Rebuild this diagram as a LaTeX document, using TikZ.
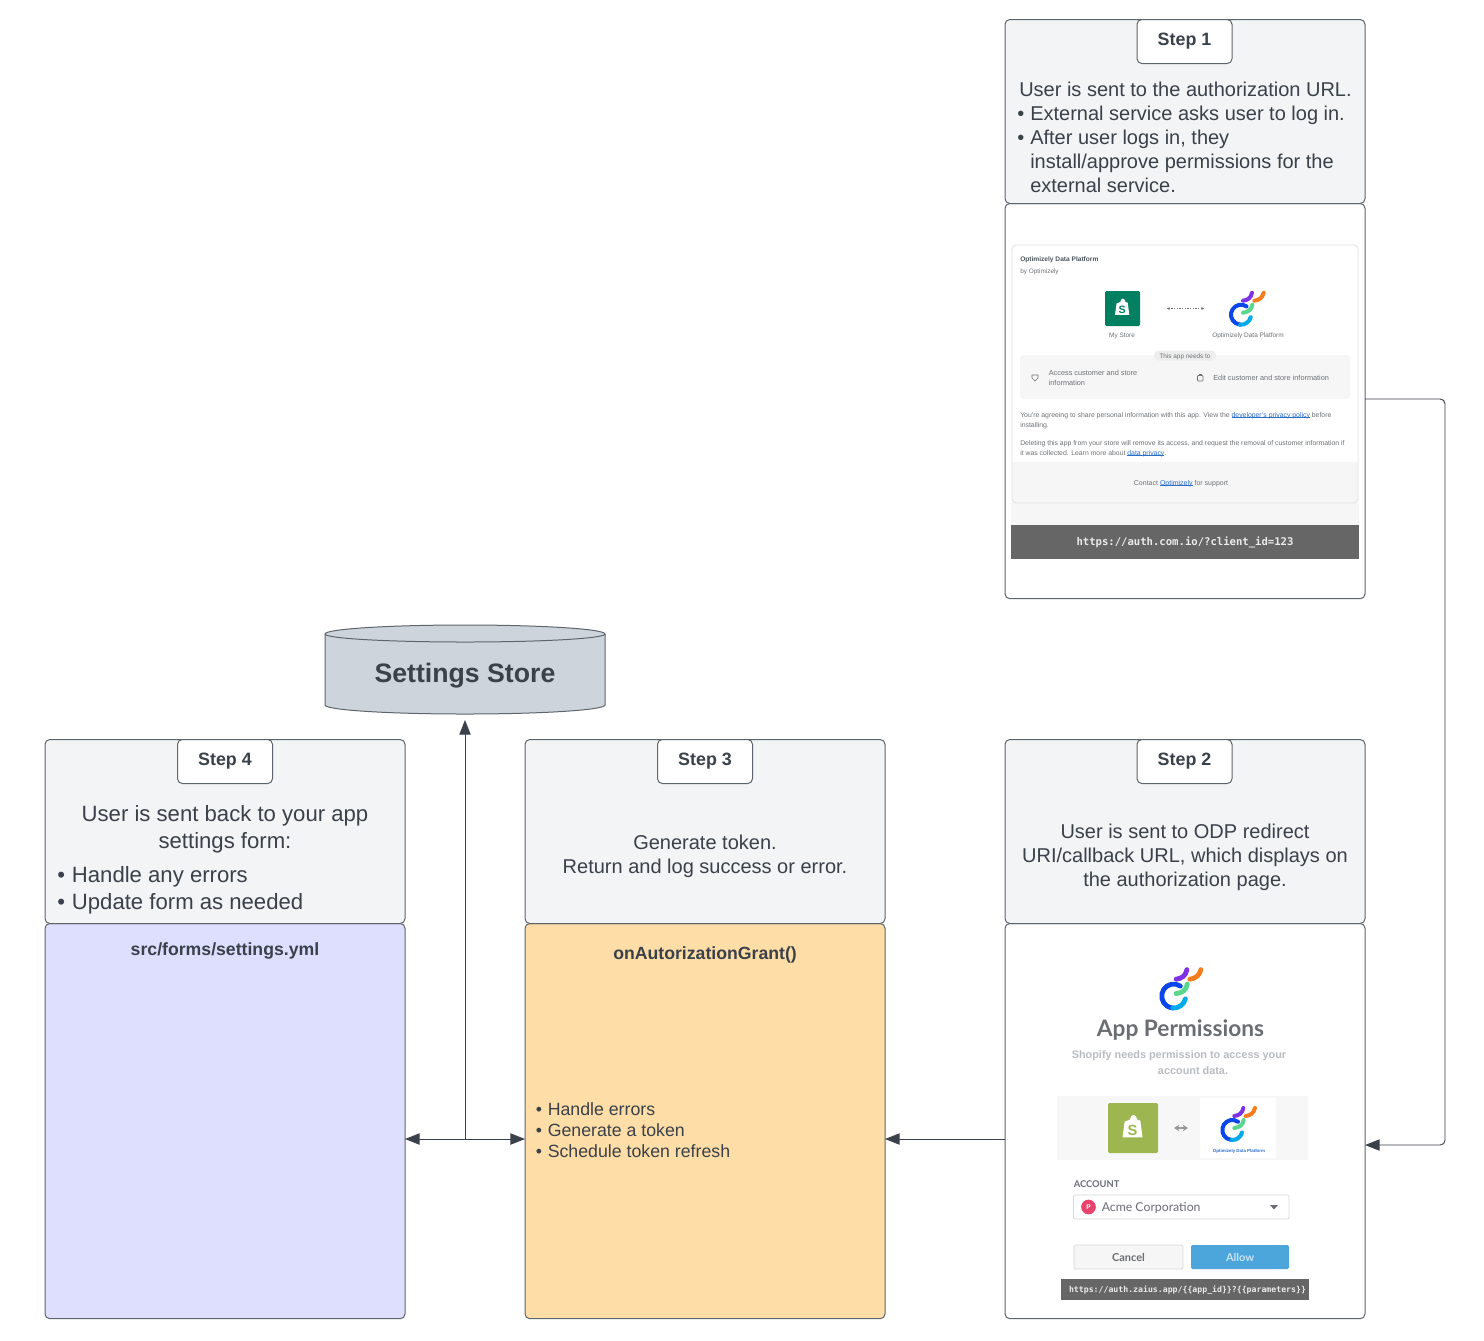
\documentclass[tikz,border=0pt]{standalone}
\usepackage{fontspec}
\setmainfont{Liberation Sans}
\setmonofont{DejaVu Sans Mono}
\newfontfamily\latofont{Lato}
\usetikzlibrary{arrows.meta,calc}
\definecolor{ink}{HTML}{3A414A}
\definecolor{edge}{HTML}{5F656C}
\definecolor{panel}{HTML}{F2F4F5}
\definecolor{lav}{HTML}{DEDEFF}
\definecolor{peach}{HTML}{FFDDA6}
\definecolor{storefill}{HTML}{CED4DB}
\definecolor{bar}{HTML}{666666}
\definecolor{soft}{HTML}{F6F6F7}
\definecolor{shotgray}{HTML}{6D7175}
\definecolor{linkblue}{HTML}{2C6ECB}
\definecolor{shopgreen}{HTML}{008060}
\definecolor{shoplime}{HTML}{9DB650}
\definecolor{blurgray}{HTML}{B9BCC0}
\definecolor{blurdark}{HTML}{6A6D72}
\definecolor{allowblue}{HTML}{4CA6DC}
\newcommand{\bul}{\makebox[9.75pt][l]{•}}
\newcommand{\lk}[1]{\textcolor{linkblue}{\setbox0\hbox{#1}\rlap{\rule[-0.55pt]{\wd0}{0.25pt}}\box0}}
\newcommand{\odplogo}[3]{%
\begin{scope}[shift={(#1,#2)},scale=#3/3,line width=#3*3pt,line cap=round]
\draw[color={rgb,255:red,10;green,70;blue,235}] (-56:30) arc[radius=30,start angle=-56,end angle=-265];
\draw[color={rgb,255:red,0;green,170;blue,235}] (-265:30) arc[radius=30,start angle=-265,end angle=-346];
\draw[color={rgb,255:red,90;green,215;blue,140}] (6,-6) .. controls (20,-8) and (32,-14) .. (34,-30);
\draw[color={rgb,255:red,125;green,50;blue,230}] (6,-42) .. controls (20,-44) and (30,-50) .. (33,-66);
\draw[color={rgb,255:red,245;green,125;blue,30}] (40,-42) .. controls (54,-44) and (64,-50) .. (68,-66);
\end{scope}}
\newcommand{\shopbag}[5]{%
\begin{scope}[shift={(#1,#2)},scale=#3]
\fill[white] (-8,-6) -- (-3,-8) .. controls (-2,-14) and (3,-14) .. (4,-8) -- (7,-7) -- (9,9) -- (-10,9) -- cycle;
\node[font=\bfseries\fontsize{#4}{#4}\selectfont,text=#5,inner sep=0pt] (bag#1) at (-0.5,2) {S};
\end{scope}}
\tikzset{
  x=0.75pt,y=-0.75pt,
  boxbase/.style={draw=edge,line width=0.75pt,rounded corners=3.6pt,anchor=north west,inner sep=0pt,outer sep=0pt},
  headbox/.style={boxbase,fill=panel,minimum width=270pt,minimum height=138pt},
  bodybox/.style={boxbase,minimum width=270pt,minimum height=296.4pt},
  stepbox/.style={boxbase,fill=white,minimum width=71.25pt,minimum height=33pt,text=ink,font=\bfseries\fontsize{13.4}{16}\selectfont},
  copy/.style={text=ink,inner sep=0pt,font=\fontsize{15}{18}\selectfont},
  copyL/.style={copy,font=\fontsize{16.6}{20.25}\selectfont},
  arrowline/.style={draw=ink,line width=0.7pt,-{Stealth[length=11pt,width=8.5pt,inset=0pt]}},
  tiny/.style={text=shotgray,inner sep=0pt,anchor=base west,font=\fontsize{5.15}{7.5}\selectfont},
  tinyc/.style={tiny,anchor=base},
  blur/.style={inner sep=0pt,text=blurgray,font=\bfseries\fontsize{8.15}{10}\selectfont},
}
\begin{document}
\begin{tikzpicture}
\useasboundingbox (0,0) rectangle (1484,1340);
\fill[white] (0,0) rectangle (1484,1340);

% Bodies
\node[bodybox,fill=white] (s1body) at (1005,203.5) {};
\node[bodybox,fill=white] (s2body) at (1005,923.5) {};
\node[bodybox,fill=peach] (s3body) at (525,923.5) {};
\node[bodybox,fill=lav] (s4body) at (45,923.5) {};

% Heads
\node[headbox] (s1head) at (1005,19.5) {};
\node[headbox] (s2head) at (1005,739.5) {};
\node[headbox] (s3head) at (525,739.5) {};
\node[headbox] (s4head) at (45,739.5) {};
\node[stepbox] (s1tag) at (1137,19.5) {Step 1};
\node[stepbox] (s2tag) at (1137,739.5) {Step 2};
\node[stepbox] (s3tag) at (657.5,739.5) {Step 3};
\node[stepbox] (s4tag) at (177.5,739.5) {Step 4};

% Head texts
\node[copy,anchor=north west,align=left] (s1text) at (1017,82)
 {\hspace*{1.5pt}User is sent to the authorization URL.\\
  \bul External service asks user to log in.\\
  \bul After user logs in, they\\
  \hspace*{9.75pt}install/approve permissions for the\\
  \hspace*{9.75pt}external service.};
\node[copy,align=center] (s2text) at (1185,857)
 {User is sent to ODP redirect\\URI/callback URL, which displays on\\the authorization page.};
\node[copy,align=center] (s3text) at (705,856.5)
 {Generate token.\\Return and log success or error.};
\node[copyL,align=center] (s4texta) at (225,829.5) {User is sent back to your app\\settings form:};
\node[copyL,anchor=west,align=left] (s4textb) at (57,890.5) {\bul\hspace*{1.25pt}Handle any errors\\\bul\hspace*{1.25pt}Update form as needed};

% Body texts
\node[text=ink,inner sep=0pt,font=\bfseries\fontsize{13.25}{16}\selectfont] (s4file) at (225,951) {src/forms/settings.yml};
\node[text=ink,inner sep=0pt,font=\bfseries\fontsize{13.25}{16}\selectfont] (s3func) at (705,954.5) {onAutorizationGrant()};
\node[text=ink,inner sep=0pt,anchor=west,align=left,font=\fontsize{13.3}{15.75}\selectfont] (s3list) at (535.5,1130)
 {\makebox[9pt][l]{•}Handle errors\\\makebox[9pt][l]{•}Generate a token\\\makebox[9pt][l]{•}Schedule token refresh};

% Settings store
\draw[draw=edge,line width=0.75pt,fill=storefill]
  (325,634) -- (325,705) arc[x radius=140,y radius=9,start angle=180,end angle=0] -- (605,634)
  arc[x radius=140,y radius=9,start angle=0,end angle=-180] -- cycle;
\draw[draw=edge,line width=0.75pt] (325,634) arc[x radius=140,y radius=8,start angle=180,end angle=0];
\node[inner sep=0pt,minimum width=210pt,minimum height=66.75pt,text=ink,font=\bfseries\fontsize{20}{24}\selectfont] (store) at (465,669.5) {\smash{\raisebox{-9.4pt}{Settings Store}}};

% Connectors
\coordinate (mid) at (0,1139);
\coordinate (joint) at (465,1139);
\coordinate (rail) at (1445,399);
\coordinate (railend) at (1445,1145);
\draw[arrowline] (s2body.west |- mid) -- (s3body.east |- mid);
\draw[arrowline] (joint) -- (s4body.east |- mid);
\draw[arrowline] (joint) -- (s3body.west |- mid);
\draw[arrowline,shorten >=4.5pt] (joint) -- (store.south |- 0,714);
\draw[arrowline,rounded corners=3.6pt] (s1body.east |- rail) -- (rail) -- (railend) -- (s2body.east |- railend);

% --- Screenshot 1 ---
\fill[color=soft] (1011,503) rectangle (1359,525);
\fill[white,rounded corners=3pt] (1012,245) rectangle (1358,503);
\begin{scope}
\path[clip,rounded corners=3pt] (1012,245) rectangle (1358,503);
\fill[color=soft] (1012,462) rectangle (1358,503);
\end{scope}
\draw[draw=black!12,line width=0.6pt,rounded corners=3pt] (1012,245) rectangle (1358,503);
\node[tiny,text=ink!90,font=\bfseries\fontsize{4.95}{6}\selectfont] (a1) at (1020,261) {Optimizely Data Platform};
\node[tiny,font=\fontsize{4.8}{6}\selectfont] (a2) at (1020,273) {by Optimizely};
\fill[color=shopgreen,rounded corners=1pt] (1105,291) rectangle (1140,326);
\shopbag{1122.5}{308}{0.75}{8}{shopgreen}
\node[tinyc,font=\fontsize{4.8}{6}\selectfont] (a3) at (1122,337) {My Store};
\draw[shotgray,line width=0.3pt,dash pattern=on 1pt off 1pt,{Stealth[length=2pt,width=2pt]}-{Stealth[length=2pt,width=2pt]}] (1167,308.5) -- (1204,308.5);
\odplogo{1241}{314.7}{1}
\node[tinyc,font=\fontsize{4.85}{6}\selectfont] (a4) at (1248,337) {Optimizely Data Platform};
\fill[color=soft,rounded corners=3pt] (1020,355) rectangle (1350,399);
\fill[color=black!7,rounded corners=3.5pt] (1154,350.5) rectangle (1216,360.5);
\node[tinyc,font=\fontsize{4.8}{6}\selectfont] (a5) at (1185,358) {This app needs to};
\node[tiny,font=\fontsize{5.5}{7.5}\selectfont] (a6) at (1048.5,375) {Access customer and store};
\node[tiny,font=\fontsize{5.5}{7.5}\selectfont] (a6b) at (1048.5,385) {information};
\draw[shotgray,line width=0.4pt] (1032,375) -- (1038,375) -- (1038,378) -- (1035,381) -- (1032,378) -- cycle;
\draw[shotgray,line width=0.5pt,rounded corners=0.6pt] (1197.5,375.5) rectangle (1203,381);
\draw[shotgray,line width=0.4pt] (1199,375.5) -- (1199,374) -- (1201.5,374) -- (1201.5,375.5);
\node[tiny,font=\fontsize{5.5}{7.5}\selectfont] (a7) at (1213,380) {Edit customer and store information};
\node[tiny] (a8) at (1020,417) {You're agreeing to share personal information with this app. View the \lk{developer's privacy policy} before};
\node[tiny] (a9) at (1020,427) {installing.};
\node[tiny] (a10) at (1020,445) {Deleting this app from your store will remove its access, and request the removal of customer information if};
\node[tiny] (a11) at (1020,455) {it was collected. Learn more about \lk{data privacy}.};
\node[tinyc,font=\fontsize{5.25}{7}\selectfont] (a12) at (1181,485) {Contact \lk{Optimizely} for support};
\node[fill=bar,minimum width=261pt,minimum height=25.5pt,inner sep=0pt,text=white!92!black,font=\ttfamily\bfseries\fontsize{7.95}{9}\selectfont] (a13) at (1185,542) {https://auth.com.io/?client\_id=123};

% --- Screenshot 2 ---
\odplogo{1173.7}{996}{1.2}
\node[inner sep=0pt,text=blurdark,font=\latofont\bfseries\fontsize{17}{20}\selectfont] (b1) at (1180.5,1030) {App Permissions};
\node[blur] (b2) at (1179,1056) {Shopify needs permission to access your};
\node[blur] (b3) at (1193,1071) {account data.};
\fill[color=black!3] (1057,1096) rectangle (1308,1160);
\fill[white] (1200,1098) rectangle (1276,1158);
\fill[color=shoplime,rounded corners=1pt] (1108,1103) rectangle (1158,1153);
\shopbag{1133}{1128}{1.05}{11}{shoplime}
\draw[blurdark!70,line width=1pt,{Stealth[length=4pt,width=5pt]}-{Stealth[length=4pt,width=5pt]}] (1174,1128) -- (1188,1128);
\odplogo{1232.3}{1130}{1}
\node[inner sep=0pt,text=linkblue,font=\bfseries\fontsize{3.3}{4}\selectfont] (b4) at (1239,1151) {Optimizely Data Platform};
\node[inner sep=0pt,anchor=west,text=blurdark,font=\latofont\bfseries\fontsize{7}{8}\selectfont] (b5) at (1073.5,1184) {ACCOUNT};
\draw[draw=black!15,fill=white,line width=0.6pt,rounded corners=1pt] (1073.5,1195) rectangle (1289,1219);
\node[circle,fill={rgb,255:red,232;green,67;blue,106},minimum size=11pt,inner sep=0pt,text=white,font=\bfseries\fontsize{5}{6}\selectfont] (b6) at (1088.5,1207) {P};
\node[inner sep=0pt,anchor=west,text=blurdark,font=\latofont\fontsize{9.2}{11}\selectfont] (b7) at (1101.5,1208) {Acme Corporation};
\fill[color=blurdark] (1270,1205) -- (1278,1205) -- (1274,1209.5) -- cycle;
\node[draw=black!15,fill=soft,rounded corners=1pt,line width=0.6pt,minimum width=81.75pt,minimum height=18pt,inner sep=0pt,text=blurdark,font=\latofont\bfseries\fontsize{8.2}{10}\selectfont] (b8) at (1128.5,1257) {Cancel};
\node[fill=allowblue,rounded corners=1pt,minimum width=73.5pt,minimum height=18pt,inner sep=0pt,text=white!70!allowblue,font=\latofont\bfseries\fontsize{8.2}{10}\selectfont] (b9) at (1240,1257) {Allow};
\node[fill=bar,minimum width=186pt,minimum height=15.75pt,inner sep=0pt,text=white!92!black,font=\ttfamily\bfseries\fontsize{6.15}{7}\selectfont] (b10) at (1185,1289.5) {\hspace*{3.75pt}\smash{\raisebox{-2.4pt}{https://auth.zaius.app/\{\{app\_id\}\}?\{\{parameters\}\}}}};
\end{tikzpicture}
\end{document}
